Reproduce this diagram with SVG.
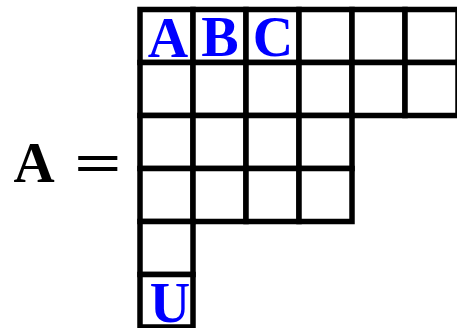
<svg xmlns="http://www.w3.org/2000/svg" width="457" height="328" viewBox="0 0 457 328">
<style>
.cell{fill:#fff;stroke:#000;stroke-width:5.5}
.lbl{font-family:"Liberation Serif","Times New Roman",serif;font-weight:bold;font-size:56px;fill:#0000ff;text-anchor:middle}
.eq{font-family:"Liberation Serif","Times New Roman",serif;font-weight:bold;font-size:57px;fill:#000}
</style>
<rect width="457" height="328" fill="#fff"/>
<g id="lhs">
<text class="eq" x="34" y="181.5" text-anchor="middle">A</text>
<text class="eq" x="74" y="181.5" font-weight="normal" textLength="48" lengthAdjust="spacingAndGlyphs">=</text>
</g>
<g id="diagram">
<g id="row1">
<rect class="cell" x="140" y="9.5" width="53" height="53"/>
<rect class="cell" x="193" y="9.5" width="53" height="53"/>
<rect class="cell" x="246" y="9.5" width="53" height="53"/>
<rect class="cell" x="299" y="9.5" width="53" height="53"/>
<rect class="cell" x="352" y="9.5" width="53" height="53"/>
<rect class="cell" x="405" y="9.5" width="53" height="53"/>
</g>
<g id="row2">
<rect class="cell" x="140" y="62.5" width="53" height="53"/>
<rect class="cell" x="193" y="62.5" width="53" height="53"/>
<rect class="cell" x="246" y="62.5" width="53" height="53"/>
<rect class="cell" x="299" y="62.5" width="53" height="53"/>
<rect class="cell" x="352" y="62.5" width="53" height="53"/>
<rect class="cell" x="405" y="62.5" width="53" height="53"/>
</g>
<g id="row3">
<rect class="cell" x="140" y="115.5" width="53" height="53"/>
<rect class="cell" x="193" y="115.5" width="53" height="53"/>
<rect class="cell" x="246" y="115.5" width="53" height="53"/>
<rect class="cell" x="299" y="115.5" width="53" height="53"/>
</g>
<g id="row4">
<rect class="cell" x="140" y="168.5" width="53" height="53"/>
<rect class="cell" x="193" y="168.5" width="53" height="53"/>
<rect class="cell" x="246" y="168.5" width="53" height="53"/>
<rect class="cell" x="299" y="168.5" width="53" height="53"/>
</g>
<g id="row5">
<rect class="cell" x="140" y="221.5" width="53" height="53"/>
</g>
<g id="row6">
<rect class="cell" x="140" y="274.5" width="53" height="52.5"/>
</g>
</g>
<g id="labels">
<text class="lbl" x="168" y="56.5">A</text>
<text class="lbl" x="220" y="56">B</text>
<text class="lbl" x="273" y="56">C</text>
<text class="lbl" x="170" y="321.5">U</text>
</g>
</svg>
